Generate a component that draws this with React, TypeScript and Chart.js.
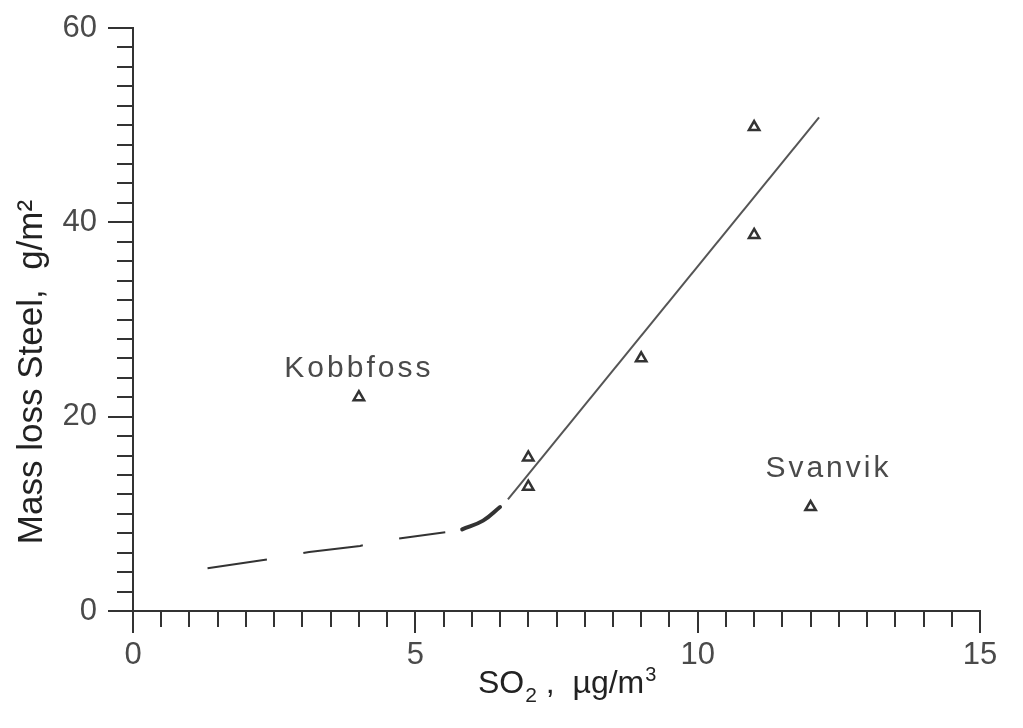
import React, { useEffect, useRef } from "react";
import { Chart, registerables } from "chart.js";

Chart.register(...registerables);

// ---- data ----
const so2Values = [4, 7, 7, 9, 11, 11, 12];
const massLossValues = [22, 15.8, 12.8, 26, 49.8, 38.7, 10.7];

const fitLineX = [6.64, 12.15];
const fitLineY = [11.5, 50.8];

const dashedCurveX = [1.32, 2.44, 3.12, 4.02, 4.62, 5.53];
const dashedCurveY = [4.4, 5.35, 6.07, 6.7, 7.4, 8.1];

const bendCurveX = [5.83, 6.2, 6.5];
const bendCurveY = [8.4, 9.3, 10.7];

const annotationLabels = ["Kobbfoss", "Svanvik"];
const annotationX = [2.68, 11.2];
const annotationY = [24.1, 13.8];

const xMajorTicks = [0, 5, 10, 15];
const yMajorTicks = [0, 20, 40, 60];

const yTitle = "Mass loss Steel,  g/m²";

const INK = "#333333";
const LABEL = "#4a4a4a";
const FONT = '"Liberation Sans", Arial, sans-serif';

const toXY = (xs: number[], ys: number[]) => xs.map((v, i) => ({ x: v, y: ys[i] }));

const decorPlugin = {
  id: "decor",
  afterDraw(chart: any) {
    const { ctx, chartArea } = chart;
    const xs = chart.scales.x;
    const ys = chart.scales.y;
    ctx.save();
    ctx.strokeStyle = INK;
    ctx.lineWidth = 2;
    ctx.beginPath();
    xMajorTicks.forEach((v) => {
      const px = Math.round(xs.getPixelForValue(v));
      ctx.moveTo(px, chartArea.bottom);
      ctx.lineTo(px, chartArea.bottom + 22);
    });
    yMajorTicks.forEach((v) => {
      const py = Math.round(ys.getPixelForValue(v));
      ctx.moveTo(chartArea.left - 25, py);
      ctx.lineTo(chartArea.left, py);
    });
    ctx.stroke();

    // annotations
    ctx.fillStyle = LABEL;
    ctx.font = `30px ${FONT}`;
    (ctx as any).letterSpacing = "3px";
    ctx.textAlign = "left";
    ctx.textBaseline = "alphabetic";
    annotationLabels.forEach((t, i) => {
      ctx.fillText(t, xs.getPixelForValue(annotationX[i]), ys.getPixelForValue(annotationY[i]));
    });
    (ctx as any).letterSpacing = "0px";

    // x title with sub/superscripts
    ctx.fillStyle = "#222";
    let cx = 478;
    const base = 693;
    ctx.font = `32px ${FONT}`;
    ctx.fillText("SO", cx, base);
    cx += ctx.measureText("SO").width + 1;
    ctx.font = `21px ${FONT}`;
    ctx.fillText("2", cx, base + 9);
    cx += ctx.measureText("2").width;
    ctx.font = `32px ${FONT}`;
    ctx.fillText(" ,  µg/m", cx, base);
    cx += ctx.measureText(" ,  µg/m").width + 1;
    ctx.font = `20px ${FONT}`;
    ctx.fillText("3", cx, base - 12);

    // y title
    ctx.save();
    ctx.translate(42, 372);
    ctx.rotate(-Math.PI / 2);
    ctx.font = `35px ${FONT}`;
    ctx.textAlign = "center";
    ctx.fillText(yTitle, 0, 0);
    ctx.restore();

    ctx.restore();
  },
};

export default function App() {
  const ref = useRef<HTMLCanvasElement | null>(null);
  useEffect(() => {
    if (!ref.current) return;
    const chart = new Chart(ref.current, {
      type: "scatter",
      data: {
        datasets: [
          {
            data: toXY(dashedCurveX, dashedCurveY),
            showLine: true,
            borderColor: INK,
            borderWidth: 2,
            borderDash: [60, 37],
            pointRadius: 0,
            tension: 0,
          },
          {
            data: toXY(bendCurveX, bendCurveY),
            showLine: true,
            borderColor: INK,
            borderWidth: 4,
            pointRadius: 0,
            tension: 0.4,
            borderCapStyle: "round",
          },
          {
            data: toXY(fitLineX, fitLineY),
            showLine: true,
            borderColor: "#555",
            borderWidth: 2,
            pointRadius: 0,
          },
          {
            data: toXY(so2Values, massLossValues),
            showLine: false,
            pointStyle: "triangle",
            pointRadius: 6,
            pointBorderWidth: 2.5,
            pointBorderColor: INK,
            pointBackgroundColor: "#ffffff",
          },
        ],
      },
      options: {
        animation: false,
        responsive: false,
        layout: { padding: { left: 0, right: 43, top: 28, bottom: 0 } },
        plugins: { legend: { display: false }, tooltip: { enabled: false } },
        scales: {
          x: {
            type: "linear",
            min: 0,
            max: 15,
            afterFit: (s: any) => {
              s.height = 117;
              s.paddingLeft = 0;
              s.paddingRight = 0;
            },
            grid: {
              drawOnChartArea: false,
              drawTicks: true,
              tickLength: 16,
              color: INK,
              lineWidth: 2,
            },
            border: { display: true, color: INK, width: 2 },
            ticks: {
              stepSize: 0.5,
              autoSkip: false,
              maxRotation: 0,
              padding: 10,
              color: LABEL,
              font: { family: FONT, size: 31 },
              callback: (v: any) => (Number(v) % 5 === 0 ? String(v) : ""),
            },
          },
          y: {
            type: "linear",
            min: 0,
            max: 60,
            afterFit: (s: any) => {
              s.width = 133;
              s.paddingTop = 0;
              s.paddingBottom = 0;
            },
            grid: {
              drawOnChartArea: false,
              drawTicks: true,
              tickLength: 16,
              color: INK,
              lineWidth: 2,
            },
            border: { display: true, color: INK, width: 2 },
            ticks: {
              stepSize: 2,
              autoSkip: false,
              padding: 20,
              color: LABEL,
              font: { family: FONT, size: 31 },
              callback: (v: any) => (Number(v) % 20 === 0 ? String(v) : ""),
            },
          },
        },
      },
      plugins: [decorPlugin],
    });
    return () => chart.destroy();
  }, []);
  return (
    <div style={{ position: "absolute", left: 0, top: 0, width: 1023, height: 728, background: "#fff" }}>
      <canvas ref={ref} width={1023} height={728} />
    </div>
  );
}
